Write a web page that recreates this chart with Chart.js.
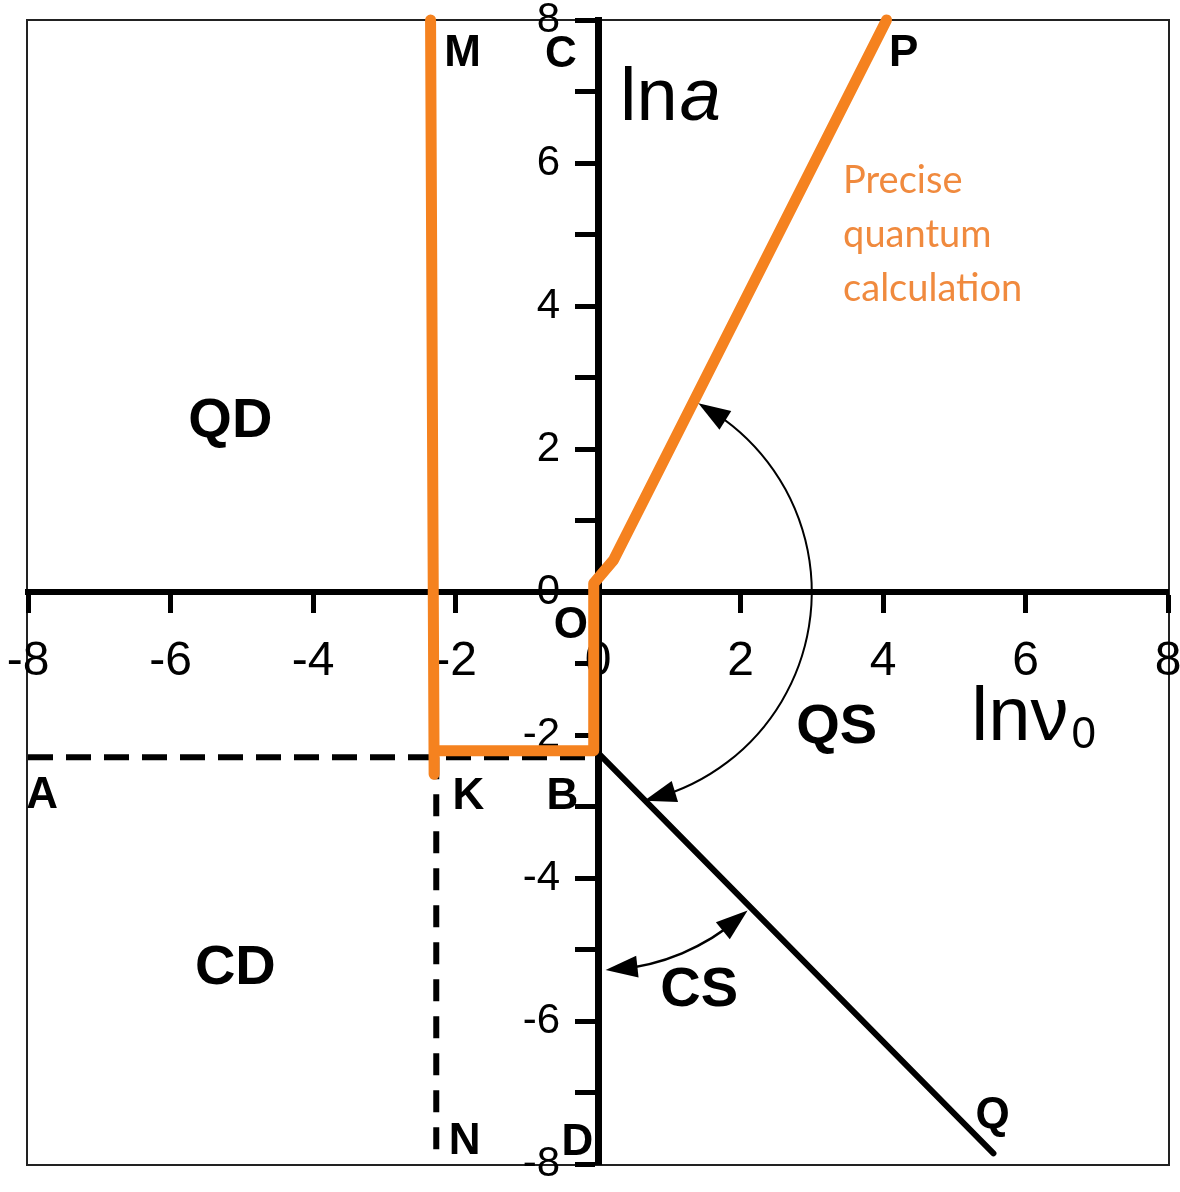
<!DOCTYPE html>
<html>
<head>
<meta charset="utf-8">
<title>ln a vs ln nu0</title>
<script src="https://cdn.jsdelivr.net/npm/chart.js@4.4.1/dist/chart.umd.min.js"></script>
<style>
    html, body { margin: 0; padding: 0; background: #fff; }
    #contenedor { width: 1180px; height: 1192px; }
</style>
</head>
<body>
<div id="contenedor"><canvas id="miGrafico"></canvas></div>
<script>
// limites y marcas de los ejes ln(nu0) y ln(a)
var limiteMin = -8;
var limiteMax = 8;
var marcasX = [-8, -6, -4, -2, 0, 2, 4, 6, 8];
var marcasY = [-8, -7, -6, -5, -4, -3, -2, -1, 0, 1, 2, 3, 4, 5, 6, 7, 8];
var etiquetasY = [-8, -6, -4, -2, 0, 2, 4, 6, 8];

// calculo cuantico preciso (naranja): M -> K -> B -> O -> P
var cuanticoX = [-2.35, -2.3, -2.3, -0.07, -0.06, 0.22, 4.05];
var cuanticoY = [8.0, -2.55, -2.22, -2.22, 0.12, 0.45, 8.0];

// recta B -> Q
var rectaX = [0.0, 5.55];
var rectaY = [-2.25, -7.85];

// lineas discontinuas A -> B y K -> N
var discABX = [-8.0, 0.0];
var discABY = [-2.31, -2.31];
var discKNX = [-2.27, -2.27];
var discKNY = [-2.31, -8.0];

// arcos con flechas: centro, radio y angulos (grados) en unidades de los ejes
var arcoQS = { cx: 0, cy: 0, r: 3.0, desde: 62, hasta: -77.5 };
var arcoCS = { cx: 0, cy: -2.25, r: 3.05, desde: -46.5, hasta: -88 };

// rotulos de puntos y regiones
var letras = [
    ['M', -1.90, 7.52], ['C', -0.52, 7.51], ['P', 4.29, 7.52], ['O', -0.38, -0.48],
    ['A', -7.80, -2.85], ['K', -1.82, -2.87], ['B', -0.50, -2.87],
    ['N', -1.87, -7.69], ['D', -0.29, -7.71], ['Q', 5.54, -7.32]
];
var regiones = [
    ['QD', -5.16, 2.39], ['CD', -5.09, -5.26], ['QS', 3.35, -1.90], ['CS', 1.42, -5.57]
];
var textoNaranja = ['Precise', 'quantum', 'calculation'];

function puntos(xs, ys) {
    return xs.map(function(x, i) { return { x: x, y: ys[i] }; });
}

document.addEventListener('DOMContentLoaded', function() {

    var fuente = '"Liberation Sans", Arial, sans-serif';

    // 1 marco fino alrededor del area del grafico
    var marco = {
        id: 'marco',
        beforeDraw: function(chart) {
            var a = chart.chartArea;
            var ctx = chart.ctx;
            ctx.save();
            ctx.strokeStyle = '#222';
            ctx.lineWidth = 2;
            ctx.strokeRect(a.left - 1, a.top, a.right - a.left + 2, a.bottom - a.top + 1);
            ctx.restore();

            // el eje y centrado deja sus numeros pegados a la linea: se corren a la izquierda de las marcas
            chart.scales.y.getLabelItems().forEach(function(item) {
                item.options.translation[0] -= 38;
            });
        }
    };

    // 2 flecha rellena en un extremo del arco
    function flecha(ctx, cx, cy, r, ang, sentido) {
        var largo = 32, ancho = 11;
        var paso = sentido * largo / r;
        var tx = cx + r * Math.cos(ang), ty = cy + r * Math.sin(ang);
        var bx = cx + r * Math.cos(ang + paso), by = cy + r * Math.sin(ang + paso);
        var dx = tx - bx, dy = ty - by, d = Math.sqrt(dx * dx + dy * dy);
        var nx = -dy / d * ancho, ny = dx / d * ancho;
        ctx.beginPath();
        ctx.moveTo(tx, ty);
        ctx.lineTo(bx + nx, by + ny);
        ctx.lineTo(bx - nx, by - ny);
        ctx.closePath();
        ctx.fill();
    }

    function dibujarArco(chart, arco, grosor) {
        var ctx = chart.ctx;
        var sx = chart.scales.x, sy = chart.scales.y;
        var cx = sx.getPixelForValue(arco.cx);
        var cy = sy.getPixelForValue(arco.cy);
        var r = arco.r * (sx.getPixelForValue(1) - sx.getPixelForValue(0));
        // en el canvas el eje y va hacia abajo
        var a1 = -arco.desde * Math.PI / 180;
        var a2 = -arco.hasta * Math.PI / 180;
        ctx.save();
        ctx.strokeStyle = '#000';
        ctx.fillStyle = '#000';
        ctx.lineWidth = grosor;
        ctx.beginPath();
        ctx.arc(cx, cy, r, a1 + 0.05, a2 - 0.05, false);
        ctx.stroke();
        flecha(ctx, cx, cy, r, a1, 1);
        flecha(ctx, cx, cy, r, a2, -1);
        ctx.restore();
    }

    // 3 arcos, letras y textos
    var anotaciones = {
        id: 'anotaciones',
        afterDatasetsDraw: function(chart) {
            var ctx = chart.ctx;
            var sx = chart.scales.x, sy = chart.scales.y;

            dibujarArco(chart, arcoQS, 2);
            dibujarArco(chart, arcoCS, 2.5);

            ctx.save();
            ctx.fillStyle = '#000';
            ctx.textAlign = 'center';
            ctx.textBaseline = 'middle';
            ctx.font = 'bold 44px ' + fuente;
            letras.forEach(function(l) {
                ctx.fillText(l[0], sx.getPixelForValue(l[1]), sy.getPixelForValue(l[2]));
            });
            ctx.font = 'bold 56px ' + fuente;
            regiones.forEach(function(l) {
                ctx.fillText(l[0], sx.getPixelForValue(l[1]), sy.getPixelForValue(l[2]));
            });

            // titulos de los ejes
            ctx.textAlign = 'left';
            ctx.textBaseline = 'alphabetic';
            var px = sx.getPixelForValue(0.31), py = sy.getPixelForValue(6.60);
            ctx.font = '74px ' + fuente;
            ctx.fillText('ln', px, py);
            var w = ctx.measureText('ln').width;
            ctx.font = 'italic 74px ' + fuente;
            ctx.fillText('a', px + w + 2, py);

            px = sx.getPixelForValue(5.24);
            py = sy.getPixelForValue(-2.07);
            ctx.font = '76px ' + fuente;
            ctx.fillText('ln\u03bd', px, py);
            w = ctx.measureText('ln\u03bd').width;
            ctx.font = '44px ' + fuente;
            ctx.fillText('0', px + w + 3, py + 8);

            // leyenda naranja
            ctx.fillStyle = '#F08A3E';
            ctx.font = '38px Lato, "Open Sans", sans-serif';
            px = sx.getPixelForValue(3.44);
            var lineas = [5.58, 4.83, 4.07];
            textoNaranja.forEach(function(t, i) {
                ctx.fillText(t, px, sy.getPixelForValue(lineas[i]));
            });
            ctx.restore();
        }
    };

    // 4 buscar el canvas
    var ctx = document.getElementById('miGrafico').getContext('2d');

    // 5 datos del grafico
    var datos = {
        datasets: [{
            label: 'Precise quantum calculation',
            data: puntos(cuanticoX, cuanticoY),
            borderColor: '#F5821F',
            borderWidth: 11,
            borderCapStyle: 'round',
            borderJoinStyle: 'round'
        }, {
            label: 'BQ',
            data: puntos(rectaX, rectaY),
            borderColor: '#000',
            borderWidth: 6,
            borderCapStyle: 'round'
        }, {
            label: 'AB',
            data: puntos(discABX, discABY),
            borderColor: '#000',
            borderWidth: 6,
            borderDash: [25, 13]
        }, {
            label: 'KN',
            data: puntos(discKNX, discKNY),
            borderColor: '#000',
            borderWidth: 6,
            borderDash: [22, 15]
        }]
    };

    // 6 configurar el grafico
    var configuracion = {
        type: 'scatter',
        data: datos,
        options: {
            responsive: true,
            maintainAspectRatio: false,
            animation: false,
            layout: { padding: { left: 28, right: 12, top: 20, bottom: 28 } },
            datasets: {
                scatter: { showLine: true, pointRadius: 0, fill: false, tension: 0, clip: false }
            },
            plugins: {
                legend: { display: false },
                tooltip: { enabled: false }
            },
            scales: {
                x: {
                    type: 'linear',
                    min: limiteMin,
                    max: limiteMax,
                    position: { y: 0 },
                    afterBuildTicks: function(eje) {
                        eje.ticks = marcasX.map(function(v) { return { value: v }; });
                    },
                    afterFit: function(eje) {
                        eje.paddingLeft = 0; eje.paddingRight = 0;
                        eje.paddingTop = 0; eje.paddingBottom = 0;
                    },
                    ticks: {
                        autoSkip: false,
                        maxRotation: 0,
                        color: '#000',
                        padding: 23,
                        font: { family: fuente, size: 48 },
                        callback: function(valor) { return String(valor); }
                    },
                    grid: {
                        drawOnChartArea: false,
                        drawTicks: true,
                        tickLength: 18,
                        tickWidth: 5,
                        tickColor: '#000'
                    },
                    border: { display: true, color: '#000', width: 6 }
                },
                y: {
                    type: 'linear',
                    min: limiteMin,
                    max: limiteMax,
                    position: { x: 0 },
                    afterBuildTicks: function(eje) {
                        eje.ticks = marcasY.map(function(v) { return { value: v }; });
                    },
                    afterFit: function(eje) {
                        eje.paddingLeft = 0; eje.paddingRight = 0;
                        eje.paddingTop = 0; eje.paddingBottom = 0;
                    },
                    ticks: {
                        autoSkip: false,
                        color: '#000',
                        padding: 20,
                        font: { family: fuente, size: 42 },
                        callback: function(valor) {
                            return etiquetasY.indexOf(valor) >= 0 ? String(valor) : '';
                        }
                    },
                    grid: {
                        drawOnChartArea: false,
                        drawTicks: true,
                        tickLength: 20,
                        tickWidth: 5,
                        tickColor: '#000'
                    },
                    border: { display: true, color: '#000', width: 7 }
                }
            }
        },
        plugins: [marco, anotaciones]
    };

    // 7 crear el grafico
    var miGrafico = new Chart(ctx, configuracion);
});
</script>
</body>
</html>
